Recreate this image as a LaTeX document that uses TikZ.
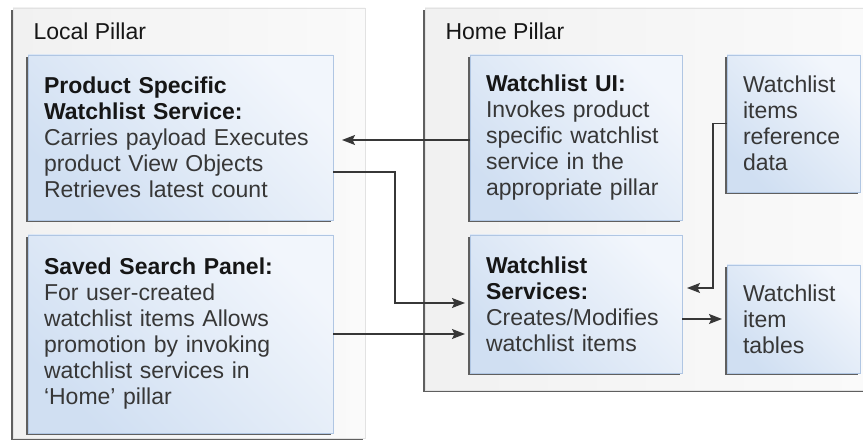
\documentclass[tikz,border=0pt]{standalone}
\usepackage{fontspec}
\setmainfont{Liberation Sans}
\usepackage{xcolor}
\usepackage{tikz}
\usetikzlibrary{arrows.meta, positioning, calc, shadows}
\definecolor{pillarlo}{RGB}{241, 241, 241}
\definecolor{pillarhi}{RGB}{250, 250, 250}
\definecolor{pillaredge}{RGB}{226, 226, 226}
\definecolor{boxlight}{RGB}{242, 246, 252}
\definecolor{boxdark}{RGB}{208, 223, 242}
\definecolor{boxedge}{RGB}{176, 198, 227}
\definecolor{edgeshadow}{RGB}{95, 95, 95}
\definecolor{titlegray}{RGB}{22, 22, 22}
\definecolor{textgray}{RGB}{55, 55, 55}
\definecolor{linegray}{RGB}{55, 55, 55}

\begin{document}
\begin{tikzpicture}[x=1pt, y=-1pt,
    font=\fontsize{23}{26}\selectfont,
    pillar/.style={draw=pillaredge, line width=0.8pt, left color=pillarlo, right color=pillarhi,
        anchor=north west, inner sep=0pt, outer sep=0pt,
        drop shadow={shadow xshift=-2pt, shadow yshift=-2pt, fill=edgeshadow, opacity=1}},
    compbox/.style={draw=boxedge, line width=0.8pt, top color=boxlight, bottom color=boxdark,
        shading angle=-45, anchor=north west, inner xsep=16pt, inner ysep=0pt, outer sep=0pt,
        align=left, text=textgray,
        drop shadow={shadow xshift=-1.8pt, shadow yshift=-1.8pt, fill=edgeshadow, opacity=1}},
    flow/.style={draw=linegray, line width=1.3pt, -{Stealth[length=13pt, width=10pt, inset=2.5pt]},
        shorten >=5pt}]

    \useasboundingbox (0,0) rectangle (863,446);

    % pillars
    \node[pillar, minimum width=352pt, minimum height=430pt] (local) at (13,8) {};
    \node[pillar, minimum width=441pt, minimum height=382pt] (home) at (425,8) {};
    \node[anchor=base west, text=titlegray] (localtitle) at (30,40) {Local Pillar};
    \node[anchor=base west, text=titlegray] (hometitle) at (442,40) {Home Pillar};

    % local pillar boxes
    \node[compbox, minimum width=305pt, minimum height=165pt, text width=273pt] (prod) at (28,55) {
        \textcolor{titlegray}{\textbf{Product Specific}}\\
        \textcolor{titlegray}{\textbf{Watchlist Service:}}\\
        Carries payload Executes\\ product View Objects\\ Retrieves latest count
    };
    \node[compbox, minimum width=305pt, minimum height=198pt, text width=273pt] (saved) at (28,235) {
        \textcolor{titlegray}{\textbf{Saved Search Panel:}}\\
        For user-created\\ watchlist items Allows\\ promotion by invoking\\
        watchlist services in\\ `Home' pillar
    };

    % home pillar boxes
    \node[compbox, minimum width=212pt, minimum height=165pt, text width=180pt] (ui) at (470,55) {
        \textcolor{titlegray}{\textbf{Watchlist UI:}}\\
        Invokes product\\ specific watchlist\\ service in the\\ appropriate pillar
    };
    \node[compbox, minimum width=133pt, minimum height=137pt, text width=101pt] (refdata) at (727,55) {
        Watchlist\\ items\\ reference\\ data
    };
    \node[compbox, minimum width=212pt, minimum height=138pt, text width=180pt] (svc) at (470,235) {
        \textcolor{titlegray}{\textbf{Watchlist}}\\
        \textcolor{titlegray}{\textbf{Services:}}\\
        Creates/Modifies\\ watchlist items
    };
    \node[compbox, minimum width=133pt, minimum height=108pt, text width=101pt] (tables) at (727,265) {
        Watchlist\\ item\\ tables
    };

    % connectors
    \draw[flow, shorten >=9pt] ($(ui.west)+(0,2.5)$) -- ($(prod.east)+(0,2.5)$);
    \draw[flow] ($(prod.east)+(0,34.5)$) -- ++(62,0) |- ($(svc.west)+(0,-1)$);
    \draw[flow] (saved.east) -- (saved.east -| svc.west);
    \draw[flow] (refdata.west) -- ++(-14,0) |- ($(svc.east)+(0,-16)$);
    \draw[flow] (svc.east |- tables.west) -- (tables.west);
\end{tikzpicture}
\end{document}
